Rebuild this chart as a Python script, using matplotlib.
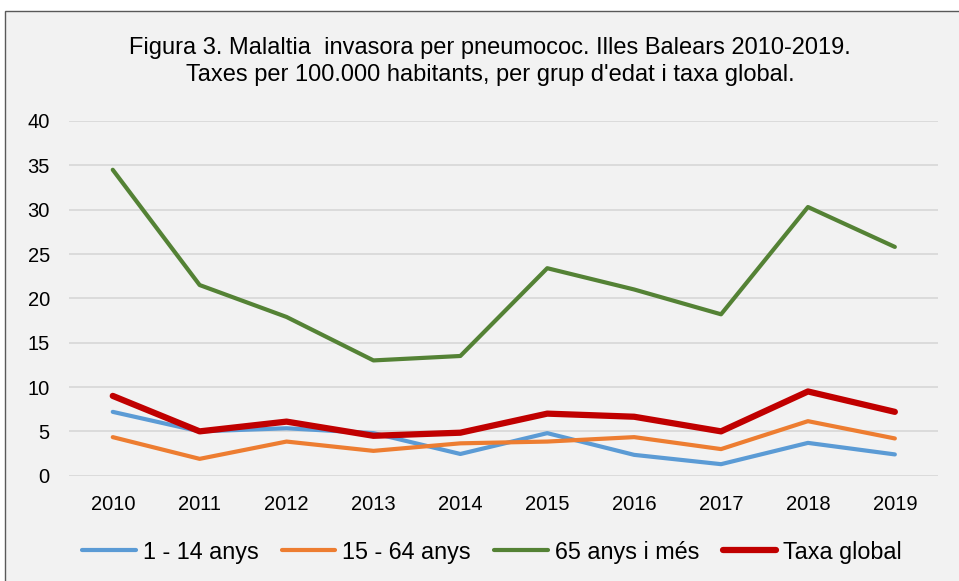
import matplotlib.pyplot as plt
from matplotlib.patches import Rectangle

plt.rcParams['font.family'] = ['Liberation Sans', 'DejaVu Sans']

years = ['2010', '2011', '2012', '2013', '2014', '2015', '2016', '2017', '2018', '2019']
nens = [7.2, 5.0, 5.35, 4.8, 2.45, 4.8, 2.35, 1.3, 3.7, 2.4]
adults = [4.35, 1.9, 3.85, 2.8, 3.65, 3.85, 4.35, 3.0, 6.15, 4.2]
grans = [34.5, 21.5, 17.9, 13.0, 13.5, 23.4, 21.0, 18.2, 30.3, 25.8]
global_ = [9.0, 5.0, 6.1, 4.5, 4.85, 7.0, 6.65, 5.0, 9.5, 7.2]

series_names = ['1 - 14 anys', '15 - 64 anys', '65 anys i més', 'Taxa global']
colors = ['#5B9BD5', '#ED7D31', '#548235', '#C00000']
widths = [3.0, 3.0, 3.0, 4.5]

fig = plt.figure(figsize=(9.59, 5.81), dpi=100)
fig.patch.set_facecolor('white')
# chart frame
frame = Rectangle((5 / 959, -0.05), 1.0, 1 - 11 / 581 + 0.05,
                  transform=fig.transFigure, facecolor='#F2F2F2',
                  edgecolor='#595959', linewidth=1.0, zorder=-5)
fig.add_artist(frame)

ax = fig.add_axes([69.3 / 959, 1 - 475.7 / 581, 869 / 959, (475.7 - 121) / 581])
ax.set_facecolor('none')
ax.set_zorder(2)

x = list(range(len(years)))
data = [nens, adults, grans, global_]
for vals, name, c, w in zip(data, series_names, colors, widths):
    ax.plot(x, vals, color=c, linewidth=w, label=name, solid_capstyle='round')

ax.set_xlim(-0.5, len(years) - 0.5)
ax.set_ylim(0, 40)
ax.set_yticks(range(0, 41, 5))
ax.set_xticks(x)
ax.set_xticklabels(years)
ax.tick_params(axis='both', length=0, labelsize=14.5, colors='black')
ax.tick_params(axis='x', pad=14)
ax.tick_params(axis='y', pad=14)
ax.grid(axis='y', color='#D9D9D9', linewidth=1.3)
ax.set_axisbelow(True)
for s in ax.spines.values():
    s.set_visible(False)

fig.text(490 / 959, 1 - 61.5 / 581,
         "Figura 3. Malaltia  invasora per pneumococ. Illes Balears 2010-2019.\n"
         "Taxes per 100.000 habitants, per grup d'edat i taxa global.",
         ha='center', va='center', fontsize=17, linespacing=1.27)

fig.legend(loc='center', bbox_to_anchor=(492 / 959, 1 - 552 / 581), ncol=4,
           frameon=False, fontsize=16.8, handlelength=2.3, handletextpad=0.3,
           columnspacing=1.0)

fig.savefig('out.png', dpi=100)
